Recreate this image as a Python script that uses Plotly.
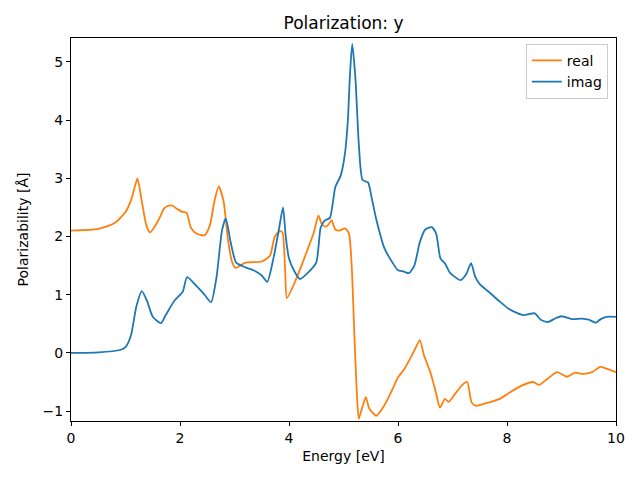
import plotly.graph_objects as go

energy_real = [0, 0.5, 0.8, 1.0, 1.1, 1.17, 1.22, 1.3, 1.38, 1.45, 1.6, 1.7, 1.76, 1.86, 1.95, 2.05, 2.12, 2.2, 2.3, 2.45, 2.55, 2.63, 2.71, 2.8, 2.88, 2.95, 3.02, 3.2, 3.5, 3.65, 3.74, 3.83, 3.88, 3.93, 3.96, 4.1, 4.25, 4.35, 4.45, 4.54, 4.6, 4.67, 4.72, 4.78, 4.85, 4.92, 5.03, 5.1, 5.15, 5.2, 5.24, 5.28, 5.34, 5.41, 5.47, 5.6, 5.75, 5.9, 6.0, 6.1, 6.25, 6.33, 6.4, 6.48, 6.6, 6.7, 6.77, 6.86, 6.93, 7.05, 7.18, 7.27, 7.35, 7.43, 7.63, 7.87, 8.05, 8.25, 8.48, 8.59, 8.75, 8.92, 9.1, 9.25, 9.39, 9.56, 9.71, 9.8, 10.0]
real = [2.10, 2.13, 2.23, 2.42, 2.62, 2.85, 3.0, 2.6, 2.2, 2.07, 2.27, 2.47, 2.52, 2.53, 2.47, 2.42, 2.41, 2.15, 2.05, 2.02, 2.2, 2.6, 2.86, 2.6, 1.95, 1.58, 1.46, 1.55, 1.57, 1.67, 2.0, 2.09, 2.07, 1.4, 0.94, 1.2, 1.55, 1.8, 2.05, 2.36, 2.22, 2.17, 2.2, 2.28, 2.12, 2.1, 2.14, 2.05, 1.5, 0.3, -0.6, -1.13, -0.95, -0.76, -0.95, -1.08, -0.9, -0.62, -0.42, -0.3, -0.05, 0.1, 0.22, -0.05, -0.35, -0.7, -0.94, -0.79, -0.84, -0.7, -0.55, -0.5, -0.85, -0.91, -0.86, -0.79, -0.68, -0.57, -0.5, -0.55, -0.44, -0.33, -0.41, -0.34, -0.36, -0.33, -0.24, -0.26, -0.33]

energy_imag = [0, 0.5, 0.9, 1.0, 1.1, 1.2, 1.3, 1.4, 1.5, 1.65, 1.72, 1.8, 1.9, 2.05, 2.13, 2.3, 2.45, 2.57, 2.67, 2.77, 2.84, 2.93, 3.03, 3.2, 3.35, 3.5, 3.6, 3.72, 3.82, 3.89, 3.94, 4.0, 4.1, 4.2, 4.35, 4.5, 4.58, 4.65, 4.75, 4.85, 4.95, 5.03, 5.08, 5.12, 5.16, 5.22, 5.28, 5.35, 5.45, 5.52, 5.6, 5.75, 5.9, 6.0, 6.1, 6.2, 6.3, 6.4, 6.5, 6.62, 6.7, 6.78, 6.86, 6.95, 7.15, 7.25, 7.34, 7.42, 7.5, 7.7, 7.87, 8.06, 8.3, 8.51, 8.62, 8.75, 8.9, 9.0, 9.19, 9.38, 9.5, 9.63, 9.72, 9.83, 10.0]
imag = [0.0, 0.01, 0.05, 0.1, 0.3, 0.8, 1.06, 0.88, 0.62, 0.51, 0.62, 0.75, 0.9, 1.05, 1.3, 1.15, 1.0, 0.87, 1.3, 2.1, 2.31, 1.9, 1.55, 1.47, 1.42, 1.33, 1.22, 1.65, 2.15, 2.5, 2.0, 1.62, 1.4, 1.27, 1.38, 1.55, 2.15, 2.27, 2.32, 2.85, 3.05, 3.45, 4.0, 4.8, 5.31, 4.7, 3.6, 2.97, 2.93, 2.65, 2.3, 1.8, 1.55, 1.42, 1.4, 1.37, 1.5, 1.9, 2.12, 2.16, 2.05, 1.62, 1.54, 1.38, 1.25, 1.35, 1.54, 1.3, 1.18, 1.02, 0.88, 0.74, 0.65, 0.68, 0.57, 0.53, 0.6, 0.63, 0.58, 0.59, 0.57, 0.52, 0.58, 0.62, 0.62]

fig = go.Figure()
fig.add_trace(go.Scatter(x=energy_real, y=real, name="real", mode="lines",
                         line=dict(color="#ff7f0e", width=1.8, shape="spline", smoothing=0.6)))
fig.add_trace(go.Scatter(x=energy_imag, y=imag, name="imag", mode="lines",
                         line=dict(color="#1f77b4", width=1.8, shape="spline", smoothing=0.6)))

axis_common = dict(showgrid=False, zeroline=False, showline=True, linecolor="black", linewidth=1,
                   mirror=True, ticks="outside", ticklen=4, tickcolor="black", automargin=False,
                   tickfont=dict(family="DejaVu Sans", size=14, color="black"))

# page body adds an 8px offset, so the margins are shifted to compensate
fig.update_layout(
    width=640, height=480,
    margin=dict(l=63, r=32, t=30, b=67),
    paper_bgcolor="white", plot_bgcolor="white",
    font=dict(family="DejaVu Sans", size=14, color="black"),
    title=dict(text="Polarization: y", x=(63 + 608) / 2 / 640, xanchor="center",
               y=1 - 15 / 480, yanchor="middle", font=dict(size=17, color="black")),
    xaxis=dict(range=[0, 10], tickvals=[0, 2, 4, 6, 8, 10],
               title=dict(text="Energy [eV]", font=dict(size=14), standoff=6), **axis_common),
    yaxis=dict(range=[-1.17, 5.41], tickvals=[-1, 0, 1, 2, 3, 4, 5],
               title=dict(text="Polarizability [Å]", font=dict(size=14), standoff=10), **axis_common),
    legend=dict(x=0.985, y=0.985, xanchor="right", yanchor="top",
                bgcolor="rgba(255,255,255,0.8)", bordercolor="#cccccc", borderwidth=1,
                font=dict(size=14)),
    showlegend=True,
)

fig.write_html("out.html")
